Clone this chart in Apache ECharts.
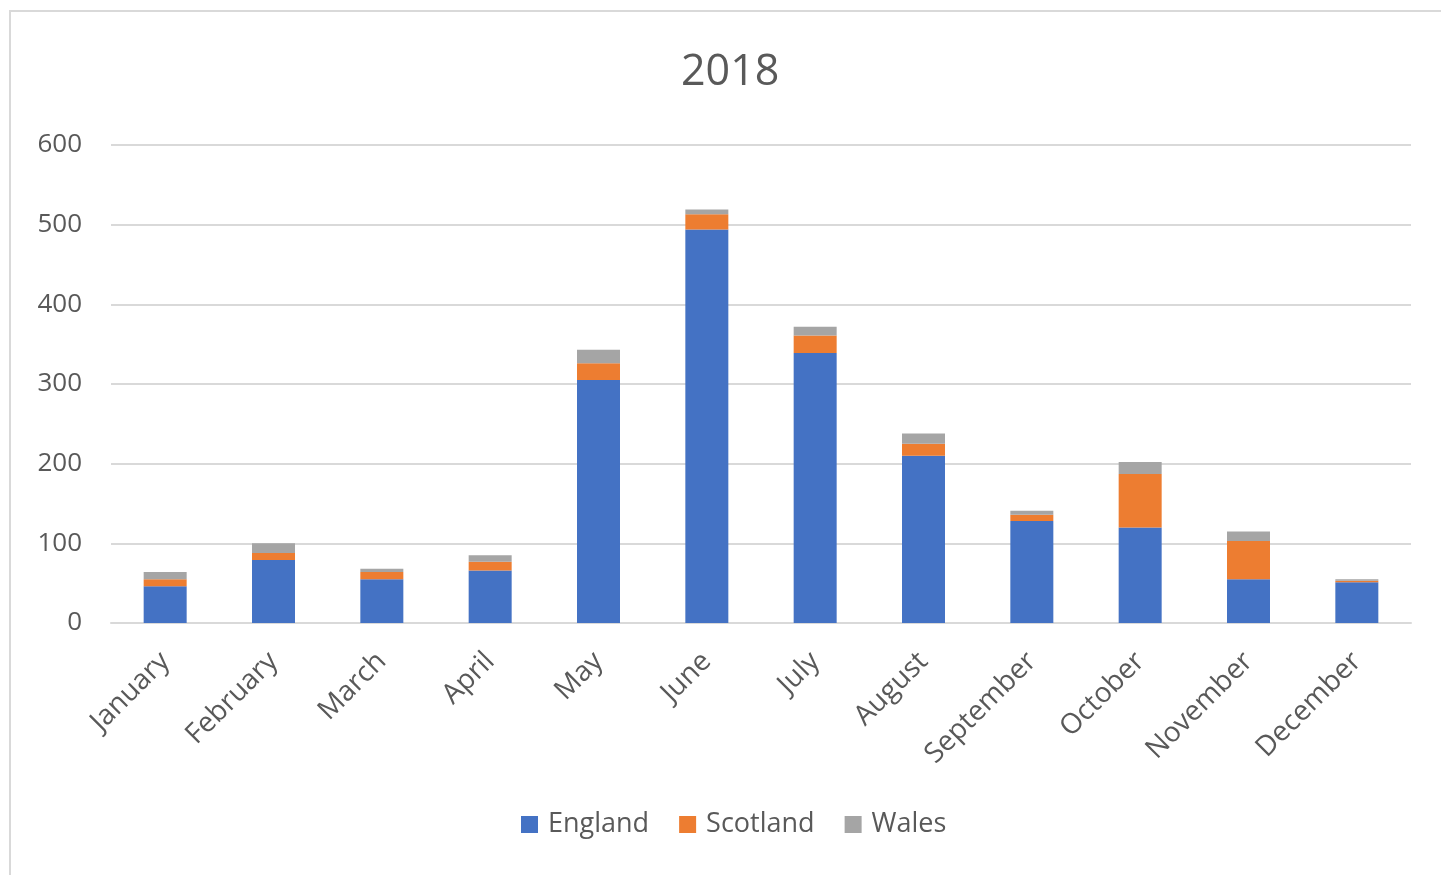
<!DOCTYPE html>
<html>
<head>
<meta charset="utf-8">
<script src="https://cdn.jsdelivr.net/npm/echarts@6/dist/echarts.min.js"></script>
<style>
  html, body { margin: 0; padding: 0; background: #fff; }
  #chart { width: 1441px; height: 875px; }
</style>
</head>
<body>
<div id="chart"></div>
<script>
const months = ['January', 'February', 'March', 'April', 'May', 'June', 'July',
  'August', 'September', 'October', 'November', 'December'];
const england = [46, 79, 55, 66, 305, 494, 339, 210, 128, 120, 55, 51];
const scotland = [9, 9, 9, 11, 21, 19, 22, 15, 8, 67, 48, 2];
const wales = [9, 12, 4, 8, 17, 6, 11, 13, 5, 15, 12, 2];

const textColor = '#595959';
const font = 'Open Sans';

const chart = echarts.init(document.getElementById('chart'));

const bar = (name, data, color) => ({
  name,
  type: 'bar',
  stack: 'total',
  barWidth: 43,
  data,
  itemStyle: { color },
});

chart.setOption({
  animation: false,
  textStyle: { fontFamily: font },
  graphic: [
    {
      type: 'rect',
      shape: { x: 10, y: 11, width: 1450, height: 900 },
      style: { fill: 'none', stroke: '#d9d9d9', lineWidth: 2 },
      silent: true,
    },
  ],
  title: {
    text: '2018',
    left: 676,
    top: 46,
    textStyle: { color: textColor, fontSize: 43, fontWeight: 'normal', fontFamily: font },
  },
  legend: {
    bottom: 32,
    left: 516,
    itemWidth: 17,
    itemHeight: 17,
    itemGap: 30,
    icon: 'rect',
    textStyle: { color: textColor, fontSize: 27, fontFamily: font, padding: [0, 0, 0, 5] },
  },
  grid: { left: 111, right: 30, top: 145, bottom: 252 },
  xAxis: {
    type: 'category',
    data: months,
    axisLine: { lineStyle: { color: '#d9d9d9', width: 2 } },
    axisTick: { show: false },
    axisLabel: {
      rotate: 45,
      color: textColor,
      fontSize: 28,
      margin: 34,
      interval: 0,
    },
  },
  yAxis: {
    type: 'value',
    min: 0,
    max: 600,
    interval: 100,
    axisLine: { show: false },
    axisTick: { show: false },
    axisLabel: { color: textColor, fontSize: 26, margin: 29 },
    splitLine: { lineStyle: { color: '#d9d9d9', width: 2 } },
  },
  series: [
    bar('England', england, '#4472c4'),
    bar('Scotland', scotland, '#ed7d31'),
    bar('Wales', wales, '#a5a5a5'),
  ],
});
</script>
</body>
</html>
